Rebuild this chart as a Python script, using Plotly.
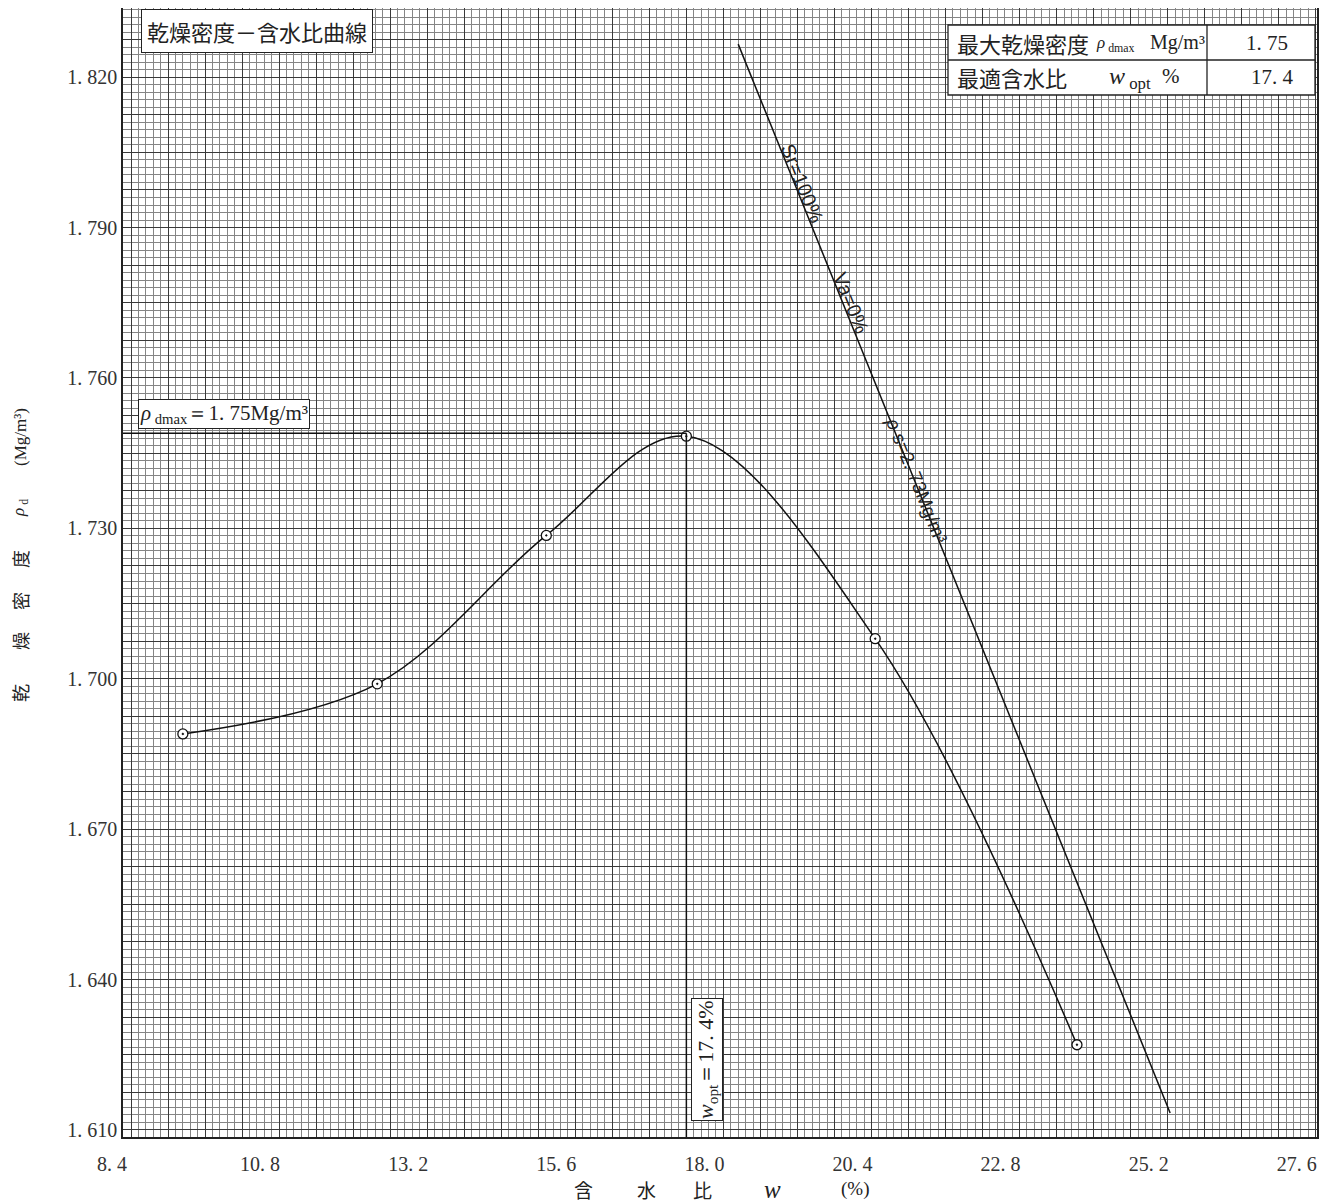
import plotly.graph_objects as go

# ---------------- data ----------------
water_content = [9.24, 12.39, 15.13, 17.40, 20.46, 23.73]      # w (%)
dry_density = [1.689, 1.699, 1.7286, 1.7484, 1.708, 1.627]     # rho_d (Mg/m3)
sr_line_w = [18.24, 25.24]                                     # Sr=100% line ends
sr_line_rho = [1.8266, 1.6134]
rho_dmax = 1.75
rho_dmax_drawn = 1.749
w_opt = 17.4
x_tick_labels = [8.4, 10.8, 13.2, 15.6, 18.0, 20.4, 22.8, 25.2, 27.6]
y_tick_labels = [1.610, 1.640, 1.670, 1.700, 1.730, 1.760, 1.790, 1.820]

# ---------------- layout helpers (page pixel coordinates) ----------------
OFF = 8                      # body margin of the html page
FW, FH = 1330, 1195          # figure size
L, R, T, B = 123, 1317, 8, 1137   # plot area in page pixels
X_RANGE = [8.27, 27.62]
Y_RANGE = [1.6086, 1.8338]


def px(x):
    return (x - L) / (R - L)


def py(y):
    return (B - y) / (B - T)


SERIF = "Liberation Serif, DejaVu Serif, serif"
CJK = "Noto Sans CJK JP, Noto Sans, sans-serif"
SANS = "Liberation Sans, Arial, sans-serif"
INK = "#222"

# 5 mm grid lines (darker) and 1 mm grid lines (lighter)
x_grid5 = [round(8.4 + 0.6 * i, 2) for i in range(-1, 33)]
x_grid5 = [v for v in x_grid5 if X_RANGE[0] <= v <= X_RANGE[1]]
y_grid5 = [round(1.61 + 0.0075 * i, 4) for i in range(-1, 32)]
y_grid5 = [v for v in y_grid5 if Y_RANGE[0] <= v <= Y_RANGE[1]]

fig = go.Figure()

# Sr = 100% line
fig.add_trace(go.Scatter(x=sr_line_w, y=sr_line_rho, mode="lines",
                         line=dict(color="#111", width=1.5), hoverinfo="skip", showlegend=False))

# compaction curve
fig.add_trace(go.Scatter(x=water_content, y=dry_density, mode="lines",
                         line=dict(color="#111", width=1.5, shape="spline", smoothing=1.0),
                         hoverinfo="skip", showlegend=False))
# data points
fig.add_trace(go.Scatter(x=water_content, y=dry_density, mode="markers",
                         marker=dict(symbol="circle-dot", size=10, color="white",
                                     line=dict(color="#111", width=1.3)),
                         showlegend=False))
# empty trace to carry the overlaid 5 mm grid axes
fig.add_trace(go.Scatter(x=[], y=[], xaxis="x2", yaxis="y2", showlegend=False, hoverinfo="skip"))

shapes = []
# rho_dmax horizontal line and w_opt vertical line
shapes.append(dict(type="line", xref="x", yref="y", x0=X_RANGE[0], x1=w_opt,
                   y0=rho_dmax_drawn, y1=rho_dmax_drawn, line=dict(color="#111", width=1.5), layer="above"))
shapes.append(dict(type="line", xref="x", yref="y", x0=w_opt, x1=w_opt,
                   y0=Y_RANGE[0], y1=rho_dmax_drawn, line=dict(color="#111", width=1.5), layer="above"))

# table at the top right
shapes.append(dict(type="rect", xref="paper", yref="paper", x0=px(948), x1=px(1315), y0=py(95), y1=py(25),
                   fillcolor="white", line=dict(color=INK, width=1.3), layer="above"))
shapes.append(dict(type="line", xref="paper", yref="paper", x0=px(948), x1=px(1315), y0=py(60), y1=py(60),
                   line=dict(color=INK, width=1.3), layer="above"))
shapes.append(dict(type="line", xref="paper", yref="paper", x0=px(1207), x1=px(1207), y0=py(95), y1=py(25),
                   line=dict(color=INK, width=1.3), layer="above"))

ann = []


def add_text(text, x, y, size, family, xanchor="center", angle=0, **kw):
    ann.append(dict(text=text, x=px(x), y=py(y), xref="paper", yref="paper", showarrow=False,
                    xanchor=xanchor, yanchor="middle", textangle=angle,
                    font=dict(size=size, family=family, color=INK), **kw))


# title box
add_text("乾燥密度－含水比曲線", 257, 31, 22, CJK, bgcolor="white", bordercolor=INK,
         borderwidth=1, borderpad=5)

# table texts
add_text("最大乾燥密度", 955, 43, 22, CJK, xanchor="left")
add_text("<i>ρ</i><sub> dmax</sub>", 1094, 44, 17, SERIF, xanchor="left")
add_text("Mg/m³", 1148, 42, 20, SERIF, xanchor="left")
add_text(f"{rho_dmax:.2f}".replace(".", ". "), 1267, 43, 21, SERIF)
add_text("最適含水比", 955, 77, 22, CJK, xanchor="left")
add_text("<i>w</i><sub> opt</sub>", 1107, 78, 24, SERIF, xanchor="left")
add_text("%", 1160, 76, 21, SERIF, xanchor="left")
add_text(f"{w_opt:.1f}".replace(".", ". "), 1272, 77, 21, SERIF)

# rho_dmax label
add_text(f"<i>ρ</i><sub> dmax</sub>＝{rho_dmax:.2f}".replace(".", ". ") + "Mg/m³", 224, 414, 21, SERIF,
         bgcolor="white", bordercolor=INK, borderwidth=1, borderpad=1)
# w_opt label
add_text(f"<i>w</i><sub>opt</sub>＝{w_opt:.1f}".replace(".", ". ") + "%", 707, 1060, 22, SERIF, angle=-90,
         bgcolor="white", bordercolor=INK, borderwidth=1, borderpad=1)

# labels along Sr line
add_text("Sr=100%", 802, 183, 20, SANS, angle=68)
add_text("Va=0%", 851, 303, 20, SANS, angle=68)
add_text("<i>ρ</i> s=2. 73Mg/m³", 917, 480, 19, SANS, angle=68)

# y-axis title (vertical)
for t, y in [("乾", 693), ("燥", 641), ("密", 601), ("度", 559)]:
    add_text(t, 20, y, 18, CJK, angle=-90)
add_text("<i>ρ</i><sub> d</sub>", 20, 508, 17, SERIF, angle=-90)
add_text("(Mg/m³)", 20, 437, 17, SERIF, angle=-90)

# x-axis title
for t, x in [("含", 583), ("水", 646), ("比", 702)]:
    add_text(t, x, 1189, 19, CJK)
add_text("<i>w</i>", 772, 1189, 25, SERIF)
add_text("(%)", 855, 1189, 19, SERIF)

fig.update_layout(
    width=FW, height=FH,
    margin=dict(l=L - OFF, r=FW + OFF - R, t=T - OFF, b=FH + OFF - B, autoexpand=False),
    paper_bgcolor="white", plot_bgcolor="white",
    shapes=shapes, annotations=ann, showlegend=False,
    xaxis=dict(range=X_RANGE, tickmode="array", tickvals=x_tick_labels,
               ticktext=[f"{v:.1f}".replace(".", ". ") for v in x_tick_labels],
               showgrid=True, gridcolor="#2a2a2a", gridwidth=1,
               minor=dict(tick0=8.4, dtick=0.12, showgrid=True, gridcolor="#858585", gridwidth=1),
               ticks="", ticklabelshift=-19, ticklabelstandoff=8,
               tickfont=dict(size=20, family=SERIF, color="#333"),
               showline=True, mirror=True, linecolor=INK, linewidth=1.6, zeroline=False),
    yaxis=dict(range=Y_RANGE, tickmode="array", tickvals=y_tick_labels,
               ticktext=[f"{v:.3f}".replace(".", ". ") for v in y_tick_labels],
               showgrid=True, gridcolor="#2a2a2a", gridwidth=1,
               minor=dict(tick0=1.61, dtick=0.0015, showgrid=True, gridcolor="#858585", gridwidth=1),
               ticks="", ticklabelstandoff=0,
               tickfont=dict(size=20, family=SERIF, color="#333"),
               showline=True, mirror=True, linecolor=INK, linewidth=1.6, zeroline=False),
    xaxis2=dict(range=X_RANGE, overlaying="x", tickmode="array", tickvals=x_grid5,
                showticklabels=False, ticks="", showgrid=True, gridcolor="#3a3a3a", gridwidth=1,
                zeroline=False, showline=False),
    yaxis2=dict(range=Y_RANGE, overlaying="y", tickmode="array", tickvals=y_grid5,
                showticklabels=False, ticks="", showgrid=True, gridcolor="#3a3a3a", gridwidth=1,
                zeroline=False, showline=False),
)

fig.write_html("out.html")
